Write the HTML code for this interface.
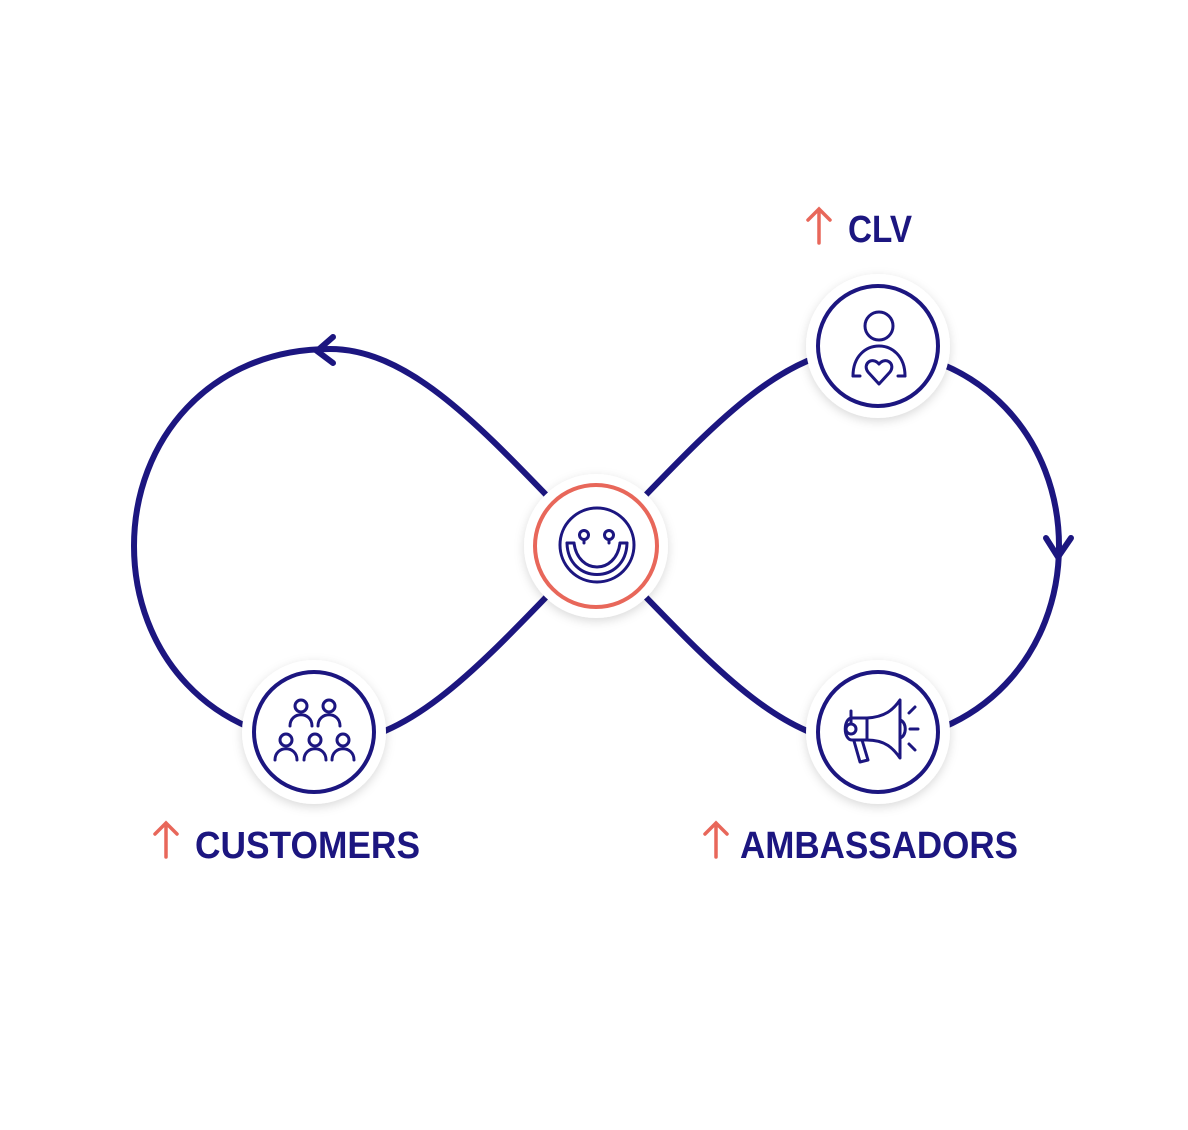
<!DOCTYPE html>
<html><head><meta charset="utf-8"><style>
html,body{margin:0;padding:0;background:#fff;}
svg{display:block;}
text{font-family:"Liberation Sans",sans-serif;font-weight:bold;fill:#1c1680;}
</style></head><body>
<svg width="1188" height="1130" viewBox="0 0 1188 1130" xmlns="http://www.w3.org/2000/svg">
<defs>
<filter id="sh" x="-30%" y="-30%" width="160%" height="160%">
<feDropShadow dx="0" dy="3" stdDeviation="5" flood-color="#000" flood-opacity="0.15"/>
</filter>
</defs>
<g fill="none" stroke="#1c1680" stroke-width="6" stroke-linecap="round">
<path d="M596,546 C500,450 420,349 330,349 C210,349 134,440 134,546 C134,652 210,743 330,743 C420,743 500,642 596,546"/>
<path d="M596,546 C692,450 772,349 862,349 C982,349 1059,440 1059,546 C1059,652 982,743 862,743 C772,743 692,642 596,546"/>
<polyline points="333,337 317,351 333,363"/>
<polyline points="1046,538 1058,557 1071,538"/>
</g>
<g filter="url(#sh)" fill="#fff">
<circle cx="596" cy="546" r="72"/>
<circle cx="878" cy="346" r="72"/>
<circle cx="878" cy="732" r="72"/>
<circle cx="314" cy="732" r="72"/>
</g>
<circle cx="596" cy="546" r="61" fill="none" stroke="#e8675a" stroke-width="4"/>
<g fill="none" stroke="#1c1680" stroke-width="4">
<circle cx="878" cy="346" r="60"/>
<circle cx="878" cy="732" r="60"/>
<circle cx="314" cy="732" r="60"/>
</g>
<g fill="none" stroke="#1c1680" stroke-width="3" stroke-linecap="round">
<circle cx="597" cy="545" r="37"/>
<path d="M567,543 C568,585 626,585 627,543 M574,543 C578,575 616,575 620,543"/>
<path d="M567,543 L574,543 M620,543 L627,543"/>
<circle cx="584" cy="535" r="4.5"/>
<path d="M584,540 L584,543"/>
<circle cx="609" cy="535" r="4.5"/>
<path d="M609,540 L609,543"/>
</g>
<g fill="none" stroke="#1c1680" stroke-width="3" stroke-linejoin="round" stroke-linecap="round">
<circle cx="879" cy="326" r="14"/>
<path d="M853,376 C853,336 905,336 905,376"/>
<path d="M853,376 L860,376 M898,376 L905,376"/>
<path d="M879,384 L868,372 C862,364 872,356 879,364 C886,356 896,364 890,372 Z" fill="#fff"/>
</g>
<g fill="none" stroke="#1c1680" stroke-width="3" stroke-linejoin="round" stroke-linecap="round">
<path d="M867,718 C885,717 893,710 900,700 L900,758 C893,748 885,740 867,740 Z"/>
<path d="M867,718 L852,718 C843,718 843,740 852,740 L867,740"/>
<path d="M851,711 L851,724"/>
<circle cx="851" cy="729" r="5"/>
<path d="M854,741 L860,762 L868,760 L862,740"/>
<path d="M900,720 C907,722 907,736 900,738"/>
<path d="M909,713 L915,707 M910,729 L918,729 M909,744 L915,750"/>
</g>
<g fill="none" stroke="#1c1680" stroke-width="3" stroke-linecap="round">
<g id="p"><circle cx="301" cy="706" r="6"/><path d="M290,726 C290,711 312,711 312,726"/></g>
<use href="#p" x="28" y="0"/>
<use href="#p" x="-15" y="34"/>
<use href="#p" x="14" y="34"/>
<use href="#p" x="42" y="34"/>
</g>
<g fill="none" stroke="#e8675a" stroke-width="3.5" stroke-linecap="round">
<path d="M819,243 L819,209 M808,220 L819,209 L830,220"/>
<path d="M166,857 L166,823 M155,834 L166,823 L177,834"/>
<path d="M716,857 L716,823 M705,834 L716,823 L727,834"/>
</g>
<text x="848" y="242" font-size="38" textLength="64" lengthAdjust="spacingAndGlyphs">CLV</text>
<text x="195" y="858" font-size="38" textLength="225" lengthAdjust="spacingAndGlyphs">CUSTOMERS</text>
<text x="740" y="858" font-size="38" textLength="278" lengthAdjust="spacingAndGlyphs">AMBASSADORS</text>
</svg>
</body></html>
